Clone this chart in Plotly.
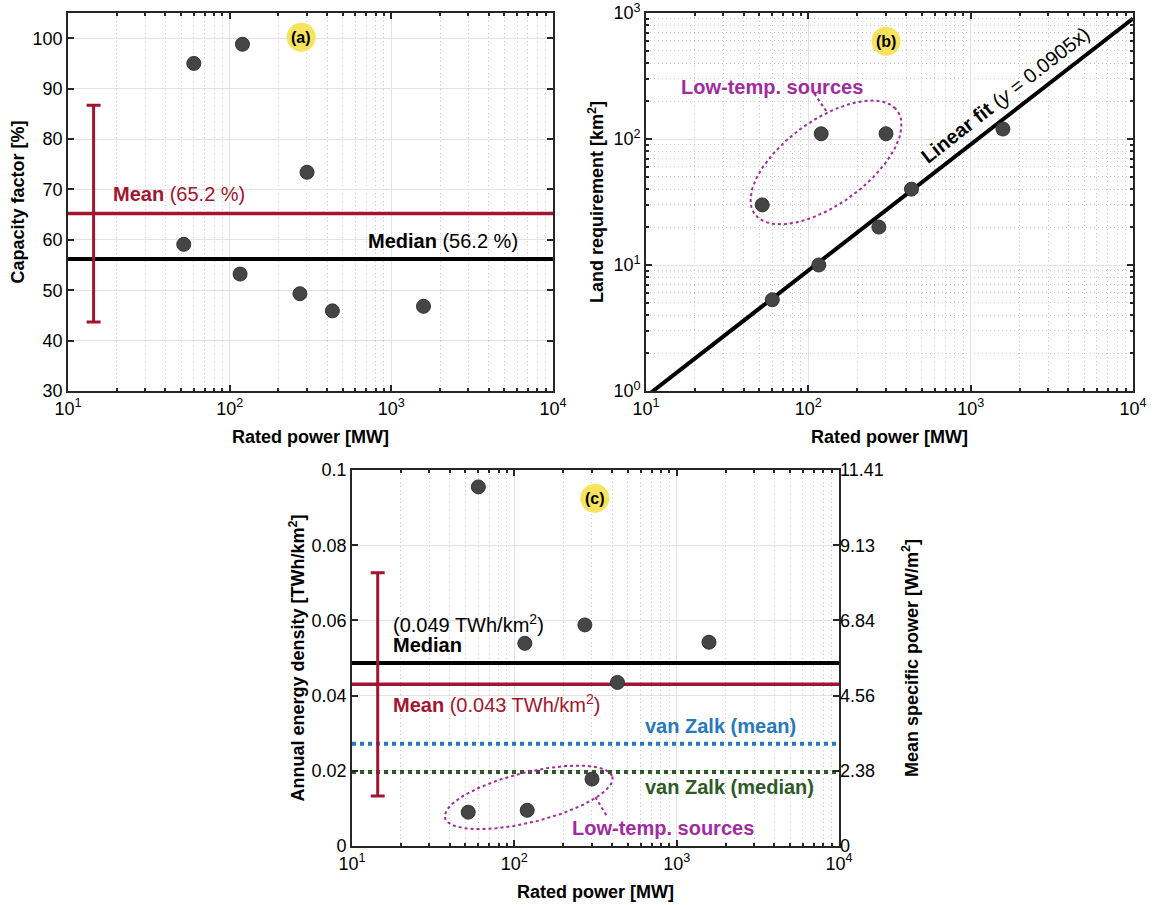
import numpy as np
import plotly.graph_objects as go

# ---------------- data ----------------
rated_power = [52, 60, 116, 120, 272, 301, 432, 1581]            # MW
capacity_factor = [59.1, 95.0, 53.2, 98.8, 49.3, 73.4, 45.9, 46.8]  # %
land_requirement = [30, 5.3, 10, 110, 20, 110, 40, 120]          # km^2
energy_density = [0.0090, 0.0955, 0.0539, 0.0095, 0.0588, 0.0178, 0.0435, 0.0542]  # TWh/km^2

cf_mean, cf_median, cf_std = 65.2, 56.2, 21.5
ed_mean, ed_median, ed_std = 0.043, 0.0487, 0.0297
vanzalk_mean, vanzalk_median = 0.0272, 0.0197
fit_slope = 0.0905
errbar_x = 14.4

x_range_vals = [10, 10000]
x_tickvals = [10, 100, 1000, 10000]
x_ticktext = ["10<sup>1</sup>", "10<sup>2</sup>", "10<sup>3</sup>", "10<sup>4</sup>"]
cf_tickvals = [30, 40, 50, 60, 70, 80, 90, 100]
land_tickvals = [1, 10, 100, 1000]
land_ticktext = ["10<sup>0</sup>", "10<sup>1</sup>", "10<sup>2</sup>", "10<sup>3</sup>"]
ed_tickvals = [0, 0.02, 0.04, 0.06, 0.08, 0.1]
ed_ticktext = ["0", "0.02", "0.04", "0.06", "0.08", "0.1"]
sp_ticktext = ["0", "2.38", "4.56", "6.84", "9.13", "11.41"]

FONT = "Liberation Sans, Arial, Helvetica, sans-serif"
CRIMSON = "#A2142F"
BLUE = "#2878BD"
GREEN = "#2E5A26"
MAGENTA = "#A22BA0"
MARKER = "#454545"
YELLOW = "#F7E35C"
AXC = "#262626"
TICKSIZE = 18
TITLESIZE = 18
ANNSIZE = 20

minor_log_x = [m * d for d in (10, 100, 1000) for m in range(2, 10)]
minor_log_y = [m * d for d in (1, 10, 100) for m in range(2, 10)]

fig = go.Figure()


def ax_style(**kw):
    d = dict(showline=True, linecolor=AXC, linewidth=1.8, mirror="ticks",
             ticks="inside", ticklen=6, tickwidth=1.5, tickcolor=AXC,
             showgrid=True, gridcolor="#E2E2E2", gridwidth=1, zeroline=False,
             tickfont=dict(size=TICKSIZE, color="black", family=FONT), automargin=False,
             title_font=dict(size=TITLESIZE, color="black", family=FONT))
    d.update(kw)
    return d


def minor_style(vals):
    return dict(tickmode="array", tickvals=vals, ticks="inside", ticklen=3,
                tickcolor=AXC, showgrid=True, gridcolor="#C8C8C8",
                griddash="1px,3px", gridwidth=1)


marker = dict(size=14, color=MARKER, line=dict(color="#333333", width=1))


def hline_trace(xa, ya, y, color, width, dash="solid"):
    fig.add_trace(go.Scatter(x=x_range_vals, y=[y, y], mode="lines",
                             line=dict(color=color, width=width, dash=dash),
                             xaxis=xa, yaxis=ya, showlegend=False, hoverinfo="skip"))


def label_badge(xa, ya, x, y):
    fig.add_trace(go.Scatter(x=[x], y=[y], mode="markers",
                             marker=dict(size=29, color=YELLOW, line=dict(width=0)),
                             xaxis=xa, yaxis=ya, showlegend=False, hoverinfo="skip"))


# ---------------- panel (a) ----------------
hline_trace("x", "y", cf_mean, CRIMSON, 3.5)
hline_trace("x", "y", cf_median, "black", 4)
fig.add_trace(go.Scatter(x=[errbar_x], y=[cf_mean], mode="markers",
                         marker=dict(size=1, color="rgba(0,0,0,0)"),
                         error_y=dict(type="data", array=[cf_std], color=CRIMSON,
                                      thickness=3, width=7),
                         xaxis="x", yaxis="y", showlegend=False))
label_badge("x", "y", 277, 100.2)
fig.add_trace(go.Scatter(x=rated_power, y=capacity_factor, mode="markers",
                         marker=marker, xaxis="x", yaxis="y", showlegend=False))

# ---------------- panel (b) ----------------
t = np.linspace(0, 2 * np.pi, 200)
ell_b = dict(cx=2.109, cy=1.814, p=0.428, q=-0.181, r=0.427, s=0.243)
ex = 10 ** (ell_b["cx"] + ell_b["p"] * np.cos(t) + ell_b["q"] * np.sin(t))
ey = 10 ** (ell_b["cy"] + ell_b["r"] * np.cos(t) + ell_b["s"] * np.sin(t))
fig.add_trace(go.Scatter(x=ex, y=ey, mode="lines",
                         line=dict(color=MAGENTA, width=2, dash="dot"),
                         xaxis="x2", yaxis="y2", showlegend=False, hoverinfo="skip"))
fig.add_trace(go.Scatter(x=[109, 130], y=[229, 164], mode="lines",
                         line=dict(color=MAGENTA, width=2, dash="dot"),
                         xaxis="x2", yaxis="y2", showlegend=False, hoverinfo="skip"))
fit_x = np.array(x_range_vals, dtype=float)
fig.add_trace(go.Scatter(x=fit_x, y=fit_slope * fit_x, mode="lines",
                         line=dict(color="black", width=4),
                         xaxis="x2", yaxis="y2", showlegend=False))
label_badge("x2", "y2", 301, 597)
fig.add_trace(go.Scatter(x=rated_power, y=land_requirement, mode="markers",
                         marker=marker, xaxis="x2", yaxis="y2", showlegend=False))

# ---------------- panel (c) ----------------
hline_trace("x3", "y3", ed_median, "black", 4)
hline_trace("x3", "y3", ed_mean, CRIMSON, 3.5)
hline_trace("x3", "y3", vanzalk_mean, BLUE, 4, "dot")
hline_trace("x3", "y3", vanzalk_median, GREEN, 4, "dot")
ell_c = dict(cx=2.0885, cy=0.01294, p=0.5133, q=-0.0588, r=0.005718, s=0.00622)
cx_ = 10 ** (ell_c["cx"] + ell_c["p"] * np.cos(t) + ell_c["q"] * np.sin(t))
cy_ = ell_c["cy"] + ell_c["r"] * np.cos(t) + ell_c["s"] * np.sin(t)
fig.add_trace(go.Scatter(x=cx_, y=cy_, mode="lines",
                         line=dict(color=MAGENTA, width=2, dash="dot"),
                         xaxis="x3", yaxis="y3", showlegend=False, hoverinfo="skip"))
fig.add_trace(go.Scatter(x=[316, 373], y=[0.0130, 0.0078], mode="lines",
                         line=dict(color=MAGENTA, width=2, dash="dot"),
                         xaxis="x3", yaxis="y3", showlegend=False, hoverinfo="skip"))
fig.add_trace(go.Scatter(x=[errbar_x], y=[ed_mean], mode="markers",
                         marker=dict(size=1, color="rgba(0,0,0,0)"),
                         error_y=dict(type="data", array=[ed_std], color=CRIMSON,
                                      thickness=3, width=7),
                         xaxis="x3", yaxis="y3", showlegend=False))
label_badge("x3", "y3", 313, 0.0925)
fig.add_trace(go.Scatter(x=rated_power, y=energy_density, mode="markers",
                         marker=marker, xaxis="x3", yaxis="y3", showlegend=False))
# invisible trace so the right-hand axis is rendered
fig.add_trace(go.Scatter(x=[100], y=[0.05], mode="markers", marker=dict(opacity=0),
                         xaxis="x3", yaxis="y4", showlegend=False, hoverinfo="skip"))

# ---------------- annotations ----------------
ann = []


def text(xref, yref, x, y, s, color="black", size=ANNSIZE, xanchor="center", angle=0):
    ann.append(dict(xref=xref, yref=yref, x=x, y=y, text=s, showarrow=False,
                    xanchor=xanchor, yanchor="middle", textangle=angle,
                    font=dict(family=FONT, size=size, color=color)))


lg = np.log10
text("x", "y", lg(18.5), 69.0, "<b>Mean</b> (65.2 %)", CRIMSON, xanchor="left")
text("x", "y", lg(695), 59.7, "<b>Median</b> (56.2 %)", "black", xanchor="left")
text("x", "y", lg(277), 100.2, "<b>(a)</b>", "black", 16)

text("x2", "y2", lg(301), lg(597), "<b>(b)</b>", "black", 16)
text("x2", "y2", lg(59.7), lg(261), "<b>Low-temp. sources</b>", MAGENTA)
text("x2", "y2", 3.213, 2.346, "<b>Linear fit</b> (<i>y</i> = 0.0905x)", "black", ANNSIZE, "center", -38)

text("x3", "y3", lg(313), 0.0925, "<b>(c)</b>", "black", 16)
text("x3", "y3", lg(17.5), 0.0592, "(0.049 TWh/km<sup>2</sup>)", "black", xanchor="left")
text("x3", "y3", lg(17.5), 0.0535, "<b>Median</b>", "black", xanchor="left")
text("x3", "y3", lg(17.5), 0.0379, "<b>Mean</b> (0.043 TWh/km<sup>2</sup>)", CRIMSON, xanchor="left")
text("x3", "y3", lg(1858), 0.0318, "<b>van Zalk (mean)</b>", BLUE)
text("x3", "y3", lg(2128), 0.0157, "<b>van Zalk (median)</b>", GREEN)
text("x3", "y3", lg(822), 0.00484, "<b>Low-temp. sources</b>", MAGENTA)

W, H = 1160, 905


def dom_x(a, b):
    return [a / W, b / W]


def dom_y(top, bottom):
    return [1 - bottom / H, 1 - top / H]


xtitle = dict(text="<b>Rated power [MW]</b>", standoff=13)

fig.update_layout(
    width=W, height=H, margin=dict(l=0, r=0, t=0, b=0),
    paper_bgcolor="white", plot_bgcolor="white",
    font=dict(family=FONT, color="black"),
    showlegend=False, annotations=ann,
    xaxis=ax_style(type="log", domain=dom_x(68, 553), range=[1, 4], anchor="y",
                   tickmode="array", tickvals=x_tickvals, ticktext=x_ticktext,
                   minor=minor_style(minor_log_x), title=xtitle),
    yaxis=ax_style(domain=dom_y(13, 391), range=[30, 105], anchor="x",
                   tickmode="array", tickvals=cf_tickvals,
                   title=dict(text="<b>Capacity factor [%]</b>", standoff=3)),
    xaxis2=ax_style(type="log", domain=dom_x(646, 1133), range=[1, 4], anchor="y2",
                    tickmode="array", tickvals=x_tickvals, ticktext=x_ticktext,
                    minor=minor_style(minor_log_x), title=xtitle),
    yaxis2=ax_style(type="log", domain=dom_y(13, 391), range=[0, 3], anchor="x2",
                    tickmode="array", tickvals=land_tickvals, ticktext=land_ticktext,
                    minor=minor_style(minor_log_y),
                    title=dict(text="<b>Land requirement [km<sup>2</sup>]</b>", standoff=5)),
    xaxis3=ax_style(type="log", domain=dom_x(352, 839), range=[1, 4], anchor="y3",
                    tickmode="array", tickvals=x_tickvals, ticktext=x_ticktext,
                    minor=minor_style(minor_log_x), title=xtitle),
    yaxis3=ax_style(domain=dom_y(470, 846), range=[0, 0.1], anchor="x3",
                    tickmode="array", tickvals=ed_tickvals, ticktext=ed_ticktext,
                    title=dict(text="<b>Annual energy density [TWh/km<sup>2</sup>]</b>", standoff=2)),
    yaxis4=dict(overlaying="y3", side="right", anchor="x3", range=[0, 0.1],
                tickmode="array", tickvals=ed_tickvals, ticktext=sp_ticktext,
                showline=False, showgrid=False, zeroline=False, ticks="",
                tickfont=dict(size=TICKSIZE, color="black", family=FONT), automargin=False,
                title=dict(text="<b>Mean specific power [W/m<sup>2</sup>]</b>", standoff=22,
                           font=dict(size=TITLESIZE, color="black", family=FONT))),
)

fig.write_html("out.html", config={"displayModeBar": False},
               post_script="document.body.style.margin='0px';")
